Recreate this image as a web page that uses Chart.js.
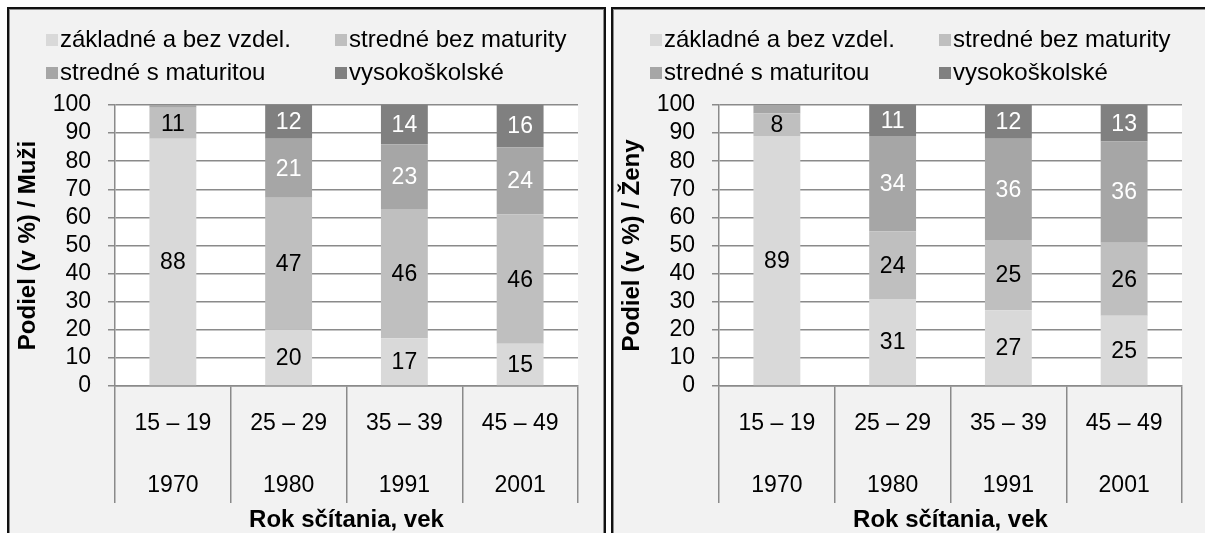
<!DOCTYPE html>
<html>
<head>
<meta charset="utf-8">
<script src="https://cdn.jsdelivr.net/npm/chart.js@4.4.1/dist/chart.umd.min.js"></script>
<style>
  html, body { margin: 0; padding: 0; background: #fff; overflow: hidden; width: 1205px; height: 533px; }
  .panel {
    position: absolute; top: 7px; width: 595px; height: 540px;
    border: 2px solid #111; background: #f2f2f2;
    box-shadow: inset 0 0 0 1px #8c8c8c;
  }
  #panelM { left: 7px; }
  #panelZ { left: 611px; }
  canvas { position: absolute; left: 0; top: 0; }
</style>
</head>
<body>
<div class="panel" id="panelM"><canvas id="chartM" width="595" height="530"></canvas></div>
<div class="panel" id="panelZ"><canvas id="chartZ" width="595" height="530"></canvas></div>
<script>
// kategórie: vek / rok sčítania
var categories = [["15 – 19", "1970"], ["25 – 29", "1980"], ["35 – 39", "1991"], ["45 – 49", "2001"]];
var seriesNames = ["základné a bez vzdel.", "stredné bez maturity", "stredné s maturitou", "vysokoškolské"];

// Muži (v %)
var muziZakladne = [88, 20, 17, 15];
var muziBezMaturity = [11, 47, 46, 46];
var muziSMaturitou = [1, 21, 23, 24];
var muziVysoko = [0, 12, 14, 16];

// Ženy (v %)
var zenyZakladne = [89, 31, 27, 25];
var zenyBezMaturity = [8, 24, 25, 26];
var zenySMaturitou = [3, 34, 36, 36];
var zenyVysoko = [0, 11, 12, 13];

var yMin = 0, yMax = 100, yStep = 10;

var colors = ["#d9d9d9", "#bfbfbf", "#a6a6a6", "#808080"];
var labelColors = ["#000", "#000", "#fff", "#fff"];
var FONT = "'Liberation Sans', Arial, sans-serif";
var GRID = "#8a8a8a";

// biele pozadie plochy grafu
var plotBg = {
    id: "plotBg",
    beforeDraw: function (chart) {
        var a = chart.chartArea, ctx = chart.ctx;
        ctx.save();
        ctx.fillStyle = "#fff";
        ctx.fillRect(a.left, a.top, a.right - a.left, a.bottom - a.top);
        ctx.restore();
    }
};

// popisky hodnot v strede segmentov
var barLabels = {
    id: "barLabels",
    afterDatasetsDraw: function (chart) {
        var ctx = chart.ctx, a = chart.chartArea;
        ctx.save();
        ctx.font = "23px " + FONT;
        ctx.textAlign = "center";
        ctx.textBaseline = "middle";
        chart.data.datasets.forEach(function (ds, i) {
            var meta = chart.getDatasetMeta(i);
            meta.data.forEach(function (bar, j) {
                var v = ds.data[j];
                if (v < 5) return;
                var p = bar.getProps(["x", "y", "base"], true);
                var top = Math.max(p.y, a.top);
                ctx.fillStyle = labelColors[i];
                ctx.fillText(String(v), p.x, (top + p.base) / 2 + 1);
            });
        });
        ctx.restore();
    }
};

// legenda v dvoch stĺpcoch ako v Exceli
var gridLegend = {
    id: "gridLegend",
    afterDraw: function (chart, args, opts) {
        var ctx = chart.ctx;
        ctx.save();
        ctx.font = "24px " + FONT;
        ctx.textBaseline = "middle";
        ctx.textAlign = "left";
        chart.data.datasets.forEach(function (ds, i) {
            var x = opts.cols[i % 2], y = opts.rows[Math.floor(i / 2)];
            ctx.fillStyle = ds.backgroundColor;
            ctx.fillRect(x, y - 6, 12, 12);
            ctx.fillStyle = "#000";
            ctx.fillText(ds.label, x + 14, y);
        });
        ctx.restore();
    }
};

function makeChart(id, values, yTitle) {
    var ctx = document.getElementById(id).getContext("2d");
    return new Chart(ctx, {
        type: "bar",
        data: {
            labels: categories,
            datasets: values.map(function (arr, i) {
                return {
                    label: seriesNames[i],
                    data: arr,
                    backgroundColor: colors[i],
                    borderWidth: 0,
                    categoryPercentage: 1,
                    barPercentage: 0.405
                };
            })
        },
        options: {
            responsive: false,
            animation: false,
            devicePixelRatio: 1,
            layout: { padding: { top: 96, right: 26, left: 0, bottom: 0 } },
            plugins: {
                legend: { display: false },
                tooltip: { enabled: false },
                gridLegend: { cols: [37, 326], rows: [31, 64] }
            },
            scales: {
                x: {
                    stacked: true,
                    afterFit: function (s) { s.height = 153; },
                    grid: {
                        offset: true,
                        drawOnChartArea: false,
                        drawTicks: true,
                        tickLength: 117,
                        color: GRID,
                        lineWidth: 1.5
                    },
                    border: { display: true, color: GRID, width: 1.5 },
                    ticks: {
                        color: "#000",
                        padding: -110,
                        maxRotation: 0,
                        autoSkip: false,
                        font: { family: FONT, size: 23, lineHeight: "62px" }
                    },
                    title: {
                        display: true,
                        text: "Rok sčítania, vek",
                        color: "#000",
                        padding: { top: 0, bottom: 4 },
                        font: { family: FONT, size: 24, weight: "bold" }
                    }
                },
                y: {
                    stacked: true,
                    min: yMin,
                    max: yMax,
                    afterFit: function (s) { s.width = 106; },
                    grid: { color: GRID, lineWidth: 1.5, tickLength: 7 },
                    border: { display: true, color: GRID, width: 1.5 },
                    ticks: {
                        stepSize: yStep,
                        autoSkip: false,
                        color: "#000",
                        padding: 17,
                        font: { family: FONT, size: 23, lineHeight: 1 }
                    },
                    title: {
                        display: true,
                        text: yTitle,
                        color: "#000",
                        padding: { top: 5, bottom: 0 },
                        font: { family: FONT, size: 24, weight: "bold" }
                    }
                }
            }
        },
        plugins: [plotBg, barLabels, gridLegend]
    });
}

makeChart("chartM", [muziZakladne, muziBezMaturity, muziSMaturitou, muziVysoko], "Podiel (v %) / Muži");
makeChart("chartZ", [zenyZakladne, zenyBezMaturity, zenySMaturitou, zenyVysoko], "Podiel (v %) / Ženy");
</script>
</body>
</html>
